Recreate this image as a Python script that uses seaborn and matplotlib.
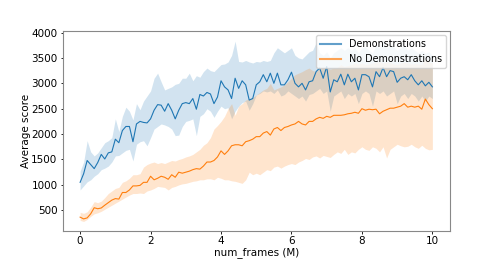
import numpy as np
import matplotlib
matplotlib.use("Agg")
import matplotlib.pyplot as plt
import seaborn as sns

# frames in millions, one point every 0.1 M
frames = np.round(np.arange(0, 101) * 0.1, 1)

demo_mean = [
    1050, 1220, 1480, 1400, 1320, 1440, 1600, 1510, 1630, 1650,
    1900, 1830, 2070, 2150, 2150, 1850, 2200, 2250, 2230, 2220,
    2300, 2470, 2580, 2570, 2450, 2600, 2470, 2300, 2470, 2600,
    2620, 2600, 2700, 2490, 2780, 2750, 2820, 2790, 2600, 2730,
    3050, 2930, 2870, 2700, 3100, 2900, 3050, 2970, 2670, 2700,
    2970, 3030, 3170, 3030, 3200, 3000, 3200, 2970, 2970, 3070,
    3220, 3000, 2930, 3000, 2870, 3030, 3050, 3230, 3300, 3100,
    3330, 2830, 3070, 3030, 3180, 2970, 3180, 3030, 3100, 2870,
    3170, 3170, 3130, 2930, 3230, 3130, 3310, 3130, 3250, 3230,
    3020, 3100, 3130, 3070, 3170, 3050, 2970, 3050, 2950, 3020,
    2930,
]
demo_upper = [
    1270, 1450, 1870, 1650, 1570, 1630, 1730, 1830, 1870, 1930,
    2300, 2050, 2350, 2530, 2450, 2280, 2600, 2480, 2650, 2750,
    2850, 3100, 3200, 3030, 2870, 2900, 2930, 2980, 3000, 3100,
    3100, 3200, 3050, 3150, 3120, 3230, 3300, 3250, 3230, 3300,
    3370, 3380, 3420, 3550, 3830, 3430, 3420, 3450, 3420, 3400,
    3430, 3420, 3450, 3430, 3450, 3600, 3700, 3650, 3600, 3650,
    3700, 3550, 3500, 3480, 3550, 3620, 3650, 3800, 3600, 3550,
    3620, 3500, 3600, 3650, 3700, 3650, 3700, 3650, 3700, 3600,
    3700, 3720, 3650, 3600, 3750, 3700, 3850, 3700, 3750, 3720,
    3650, 3700, 3750, 3650, 3700, 3650, 3600, 3650, 3600, 3620,
    3550,
]
demo_lower = [
    900, 980, 1060, 1100, 1170, 1220, 1300, 1330, 1370, 1450,
    1570, 1580, 1630, 1680, 1700, 1470, 1800, 1850, 1870, 1770,
    1930, 2100, 2150, 2200, 2180, 2150, 2100, 1970, 1980, 2150,
    2250, 2270, 2300, 1970, 2350, 2400, 2500, 2450, 2330, 2450,
    2550, 2500, 2520, 2300, 2450, 2550, 2620, 2650, 2470, 2600,
    2770, 2800, 2850, 2830, 2850, 2800, 2870, 2750, 2780, 2850,
    2800, 2750, 2700, 2750, 2650, 2780, 2800, 2850, 2900, 2800,
    2850, 2450, 2750, 2800, 2850, 2700, 2800, 2750, 2800, 2600,
    2800, 2850, 2800, 2550, 2850, 2800, 2850, 2750, 2800, 2850,
    2600, 2750, 2800, 2700, 2800, 2750, 2650, 2750, 2650, 2750,
    2700,
]

nodemo_mean = [
    365, 330, 350, 430, 550, 530, 545, 600, 650, 700,
    730, 720, 850, 850, 900, 980, 980, 990, 1050, 1050,
    1170, 1100, 1130, 1170, 1150, 1110, 1200, 1150, 1250, 1230,
    1250, 1270, 1300, 1320, 1310, 1370, 1450, 1450, 1480, 1550,
    1670, 1600, 1670, 1770, 1790, 1790, 1770, 1850, 1870, 1900,
    1950, 1950, 2020, 2050, 1980, 2100, 2130, 2070, 2130, 2150,
    2180, 2200, 2250, 2200, 2180, 2250, 2250, 2300, 2330, 2310,
    2350, 2330, 2370, 2370, 2370, 2380, 2400, 2410, 2430, 2410,
    2500, 2470, 2490, 2480, 2490, 2400, 2450, 2480, 2510, 2510,
    2530, 2550, 2600, 2530, 2550, 2530, 2550, 2490, 2690, 2580,
    2500,
]
nodemo_upper = [
    460, 440, 470, 560, 670, 650, 680, 750, 830, 880,
    930, 950, 1050, 1080, 1130, 1200, 1200, 1220, 1350, 1400,
    1430, 1450, 1420, 1440, 1420, 1450, 1480, 1470, 1500, 1520,
    1550, 1570, 1600, 1650, 1700, 1780, 1830, 1930, 2100, 2170,
    2250, 2350, 2500, 2600, 2370, 2550, 2600, 2670, 2700, 2720,
    2770, 2820, 2870, 2900, 3000, 2870, 2900, 2930, 2970, 3030,
    3100, 3170, 3200, 3230, 3270, 3300, 3250, 3230, 3300, 3320,
    3300, 3280, 3300, 3310, 3370, 3330, 3350, 3370, 3400, 3380,
    3400, 3370, 3380, 3400, 3420, 3430, 3400, 3420, 3410, 3380,
    3370, 3400, 3420, 3400, 3380, 3390, 3380, 3370, 3500, 3420,
    3400,
]
nodemo_lower = [
    300, 280, 320, 380, 430, 450, 480, 520, 560, 600,
    640, 680, 720, 760, 800, 830, 830, 840, 830, 880,
    900, 930, 970, 960, 950, 900, 950, 970, 1000, 1020,
    1030, 1050, 1070, 1080, 1100, 1100, 1120, 1120, 1100, 1150,
    1130, 1100, 1100, 1080, 1070, 1050, 1030, 1100, 1250, 1200,
    1230, 1200, 1250, 1300, 1280, 1350, 1370, 1330, 1370, 1400,
    1420, 1400, 1450, 1480, 1520, 1500, 1550, 1570, 1530, 1580,
    1560, 1540, 1600, 1650, 1620, 1700, 1600, 1650, 1630, 1700,
    1750, 1700, 1680, 1750, 1720, 1650, 1750, 1530, 1700, 1750,
    1800, 1770, 1750, 1760, 1800, 1750, 1720, 1780, 1720, 1690,
    1700,
]


def plot_scores():
    plt.rcParams["font.family"] = ["DejaVu Sans"]
    plt.rcParams["font.size"] = 7.5
    fig, ax = plt.subplots(figsize=(5, 2.59), dpi=100)

    sns.lineplot(x=frames, y=demo_mean, color="tab:blue", lw=0.8, label="Demonstrations", ax=ax)
    ax.fill_between(frames, demo_lower, demo_upper, color="tab:blue", alpha=0.2, lw=0)
    sns.lineplot(x=frames, y=nodemo_mean, color="tab:orange", lw=0.8, label="No Demonstrations", ax=ax)
    ax.fill_between(frames, nodemo_lower, nodemo_upper, color="tab:orange", alpha=0.2, lw=0)

    ax.set_xlabel("num_frames (M)", labelpad=1.5)
    ax.set_ylabel("Average score", labelpad=0.5)
    ax.tick_params(length=1.8, width=0.6, pad=1.8)
    for s in ax.spines.values():
        s.set_color("#888888")
    leg = ax.legend(loc="upper right", fontsize=6.9, handlelength=2.2, borderaxespad=0.45)
    for line in leg.get_lines():
        line.set_linewidth(1.5)
        line.set_alpha(0.7)
    plt.savefig("out.png")


if __name__ == "__main__":
    plot_scores()
